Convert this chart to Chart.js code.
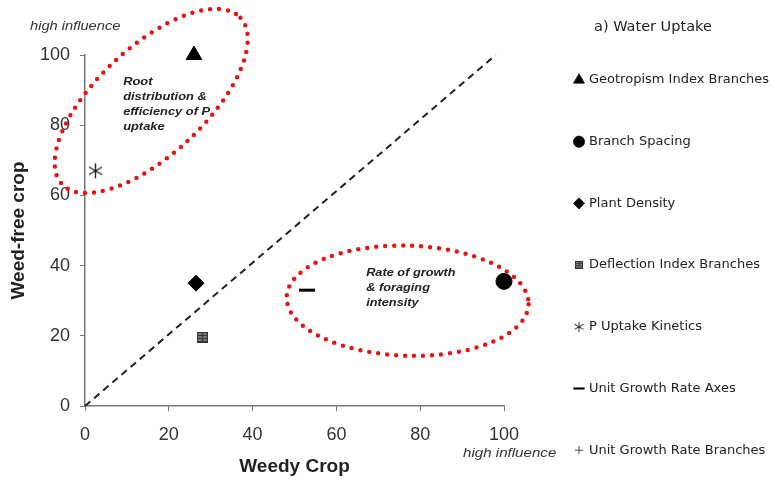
<!DOCTYPE html>
<html>
<head>
<meta charset="utf-8">
<script src="https://cdn.jsdelivr.net/npm/chart.js@4.4.0/dist/chart.umd.min.js"></script>
<style>
  html, body { margin: 0; padding: 0; background: #fff; }
  #wrap { width: 772px; height: 480px; }
</style>
</head>
<body>
<div id="wrap"><canvas id="scatter" width="772" height="480"></canvas></div>
<script>
// values: x = weedy crop, y = weed-free crop
var traitNames = ["Geotropism Index Branches", "Branch Spacing", "Plant Density",
  "Deflection Index Branches", "P Uptake Kinetics", "Unit Growth Rate Axes",
  "Unit Growth Rate Branches"];
var weedyCrop = [26, 100, 26.5, 28, 2.5, 53, null];
var weedFreeCrop = [100, 35.5, 35, 19.5, 67, 33, null];
var xTicks = [0, 20, 40, 60, 80, 100];
var yTicks = [0, 20, 40, 60, 80, 100];
// 1:1 reference line
var refLineX = [0, 98];
var refLineY = [0, 100];

// little canvases for the two markers chart.js doesn't have
function makeAsterisk(size) {
  var c = document.createElement("canvas");
  c.width = size; c.height = size;
  var g = c.getContext("2d");
  var m = size / 2, r = size / 2 - 1;
  g.strokeStyle = "#222";
  g.lineWidth = 1.4;
  g.beginPath();
  g.moveTo(m, m - r); g.lineTo(m, m + r);
  var a = r * 0.87;
  g.moveTo(m - a, m - r / 2); g.lineTo(m + a, m + r / 2);
  g.moveTo(m - a, m + r / 2); g.lineTo(m + a, m - r / 2);
  g.stroke();
  return c;
}
function makeGridSquare(size) {
  var c = document.createElement("canvas");
  c.width = size; c.height = size;
  var g = c.getContext("2d");
  g.fillStyle = "#777";
  g.fillRect(0, 0, size, size);
  g.strokeStyle = "#333";
  g.lineWidth = 1;
  g.strokeRect(0.5, 0.5, size - 1, size - 1);
  g.beginPath();
  for (var i = 3; i < size - 1; i += 3) {
    g.moveTo(0, i + 0.5); g.lineTo(size, i + 0.5);
  }
  g.moveTo(size / 2, 0); g.lineTo(size / 2, size);
  g.stroke();
  return c;
}

var pointStyles = ["triangle", "circle", "rectRot", makeGridSquare(11), makeAsterisk(17), "line", "cross"];
var pointSizes = [9, 8, 8, 6, 8, 8, 6];

var datasets = traitNames.map(function (name, i) {
  return {
    label: name,
    data: weedyCrop[i] === null ? [] : [{ x: weedyCrop[i], y: weedFreeCrop[i] }],
    pointStyle: pointStyles[i],
    pointRadius: pointSizes[i],
    backgroundColor: "#000",
    borderColor: "#000",
    borderWidth: i === 5 ? 3 : 1,
    clip: false
  };
});
datasets.push({
  label: "1:1",
  type: "line",
  data: refLineX.map(function (x, i) { return { x: x, y: refLineY[i] }; }),
  borderColor: "#222",
  borderWidth: 2,
  borderDash: [7, 5],
  pointRadius: 0,
  showLine: true,
  clip: false
});

// write text stretched sideways, like the squashed labels of the original
function wideText(ctx, text, x, y, stretch) {
  ctx.save();
  ctx.translate(x, y);
  ctx.scale(stretch, 1);
  ctx.fillText(text, 0, 0);
  ctx.restore();
}

// dotted red ellipses and italic notes, anchored in data units
var ellipseNotes = {
  id: "ellipseNotes",
  afterDatasetsDraw: function (chart) {
    var ctx = chart.ctx, xs = chart.scales.x, ys = chart.scales.y;
    ctx.save();
    ctx.strokeStyle = "#e0161b";
    ctx.lineWidth = 4.5;
    ctx.lineCap = "round";
    ctx.setLineDash([0, 9]);
    ctx.beginPath();
    ctx.ellipse(xs.getPixelForValue(15.8), ys.getPixelForValue(86.9), 122, 54, -43 * Math.PI / 180, 0, Math.PI * 2);
    ctx.stroke();
    ctx.beginPath();
    ctx.ellipse(xs.getPixelForValue(77), ys.getPixelForValue(30), 121, 55, 0.03, 0, Math.PI * 2);
    ctx.stroke();
    ctx.setLineDash([]);

    ctx.fillStyle = "#222";
    ctx.font = "italic bold 11px 'Liberation Sans', Arial, sans-serif";
    ctx.textBaseline = "middle";
    var rootLines = ["Root", "distribution &", "efficiency of P", "uptake"];
    rootLines.forEach(function (t, i) {
      wideText(ctx, t, xs.getPixelForValue(9.1), ys.getPixelForValue(92.3) + i * 15, 1.17);
    });
    var rateLines = ["Rate of growth", "& foraging", "intensity"];
    rateLines.forEach(function (t, i) {
      wideText(ctx, t, xs.getPixelForValue(67.1), ys.getPixelForValue(37.9) + i * 15, 1.16);
    });

    ctx.font = "italic 12px 'Liberation Sans', Arial, sans-serif";
    ctx.fillStyle = "#333";
    wideText(ctx, "high influence", 30, 27, 1.22);
    wideText(ctx, "high influence", 463, 454, 1.26);
    ctx.restore();
  }
};

// legend down the right side
var sideLegend = {
  id: "sideLegend",
  afterDraw: function (chart) {
    var ctx = chart.ctx;
    ctx.save();
    ctx.fillStyle = "#222";
    ctx.textBaseline = "middle";
    ctx.font = "14.5px 'DejaVu Sans', sans-serif";
    ctx.fillText("a) Water Uptake", 594, 27);
    ctx.font = "13px 'DejaVu Sans', sans-serif";
    chart.data.datasets.forEach(function (ds, i) {
      if (i >= traitNames.length) return;
      var y = 80 + i * 61.7;
      ctx.save();
      ctx.translate(579, y);
      ctx.scale(0.7, 0.7);
      ctx.fillStyle = "#000";
      ctx.strokeStyle = "#000";
      ctx.lineWidth = ds.borderWidth;
      Chart.helpers.drawPoint(ctx, { pointStyle: ds.pointStyle, radius: ds.pointRadius, rotation: 0, borderWidth: ds.borderWidth }, 0, 0);
      ctx.restore();
      ctx.fillStyle = "#222";
      ctx.fillText(ds.label, 589, y);
    });
    ctx.restore();
  }
};

var tickFont = { family: "'Liberation Sans', Arial, sans-serif", size: 18 };
var titleFont = { family: "'Liberation Sans', Arial, sans-serif", size: 19, weight: "bold" };

new Chart(document.getElementById("scatter"), {
  type: "scatter",
  data: { datasets: datasets },
  options: {
    responsive: false,
    animation: false,
    layout: { padding: { top: 55, right: 268, left: 0, bottom: 0 } },
    plugins: { legend: { display: false }, tooltip: { enabled: false } },
    scales: {
      x: {
        type: "linear",
        min: 0,
        max: 100,
        afterBuildTicks: function (s) { s.ticks = xTicks.map(function (v) { return { value: v }; }); },
        afterFit: function (s) { s.height = 74; },
        ticks: { font: tickFont, color: "#333", padding: 13 },
        grid: { drawOnChartArea: false, tickLength: 5, color: "#777" },
        border: { color: "#777", width: 1.5 },
        title: { display: true, text: "Weedy Crop", font: titleFont, color: "#222", padding: { bottom: 2, top: 0 } }
      },
      y: {
        type: "linear",
        min: 0,
        max: 100,
        afterBuildTicks: function (s) { s.ticks = yTicks.map(function (v) { return { value: v }; }); },
        afterFit: function (s) { s.width = 85; },
        ticks: { font: tickFont, color: "#333", padding: 10 },
        grid: { drawOnChartArea: false, tickLength: 5, color: "#777" },
        border: { color: "#777", width: 1.5 },
        title: { display: true, text: "Weed-free crop", font: titleFont, color: "#222", padding: { top: 7, bottom: 0 } }
      }
    }
  },
  plugins: [ellipseNotes, sideLegend]
});
</script>
</body>
</html>
